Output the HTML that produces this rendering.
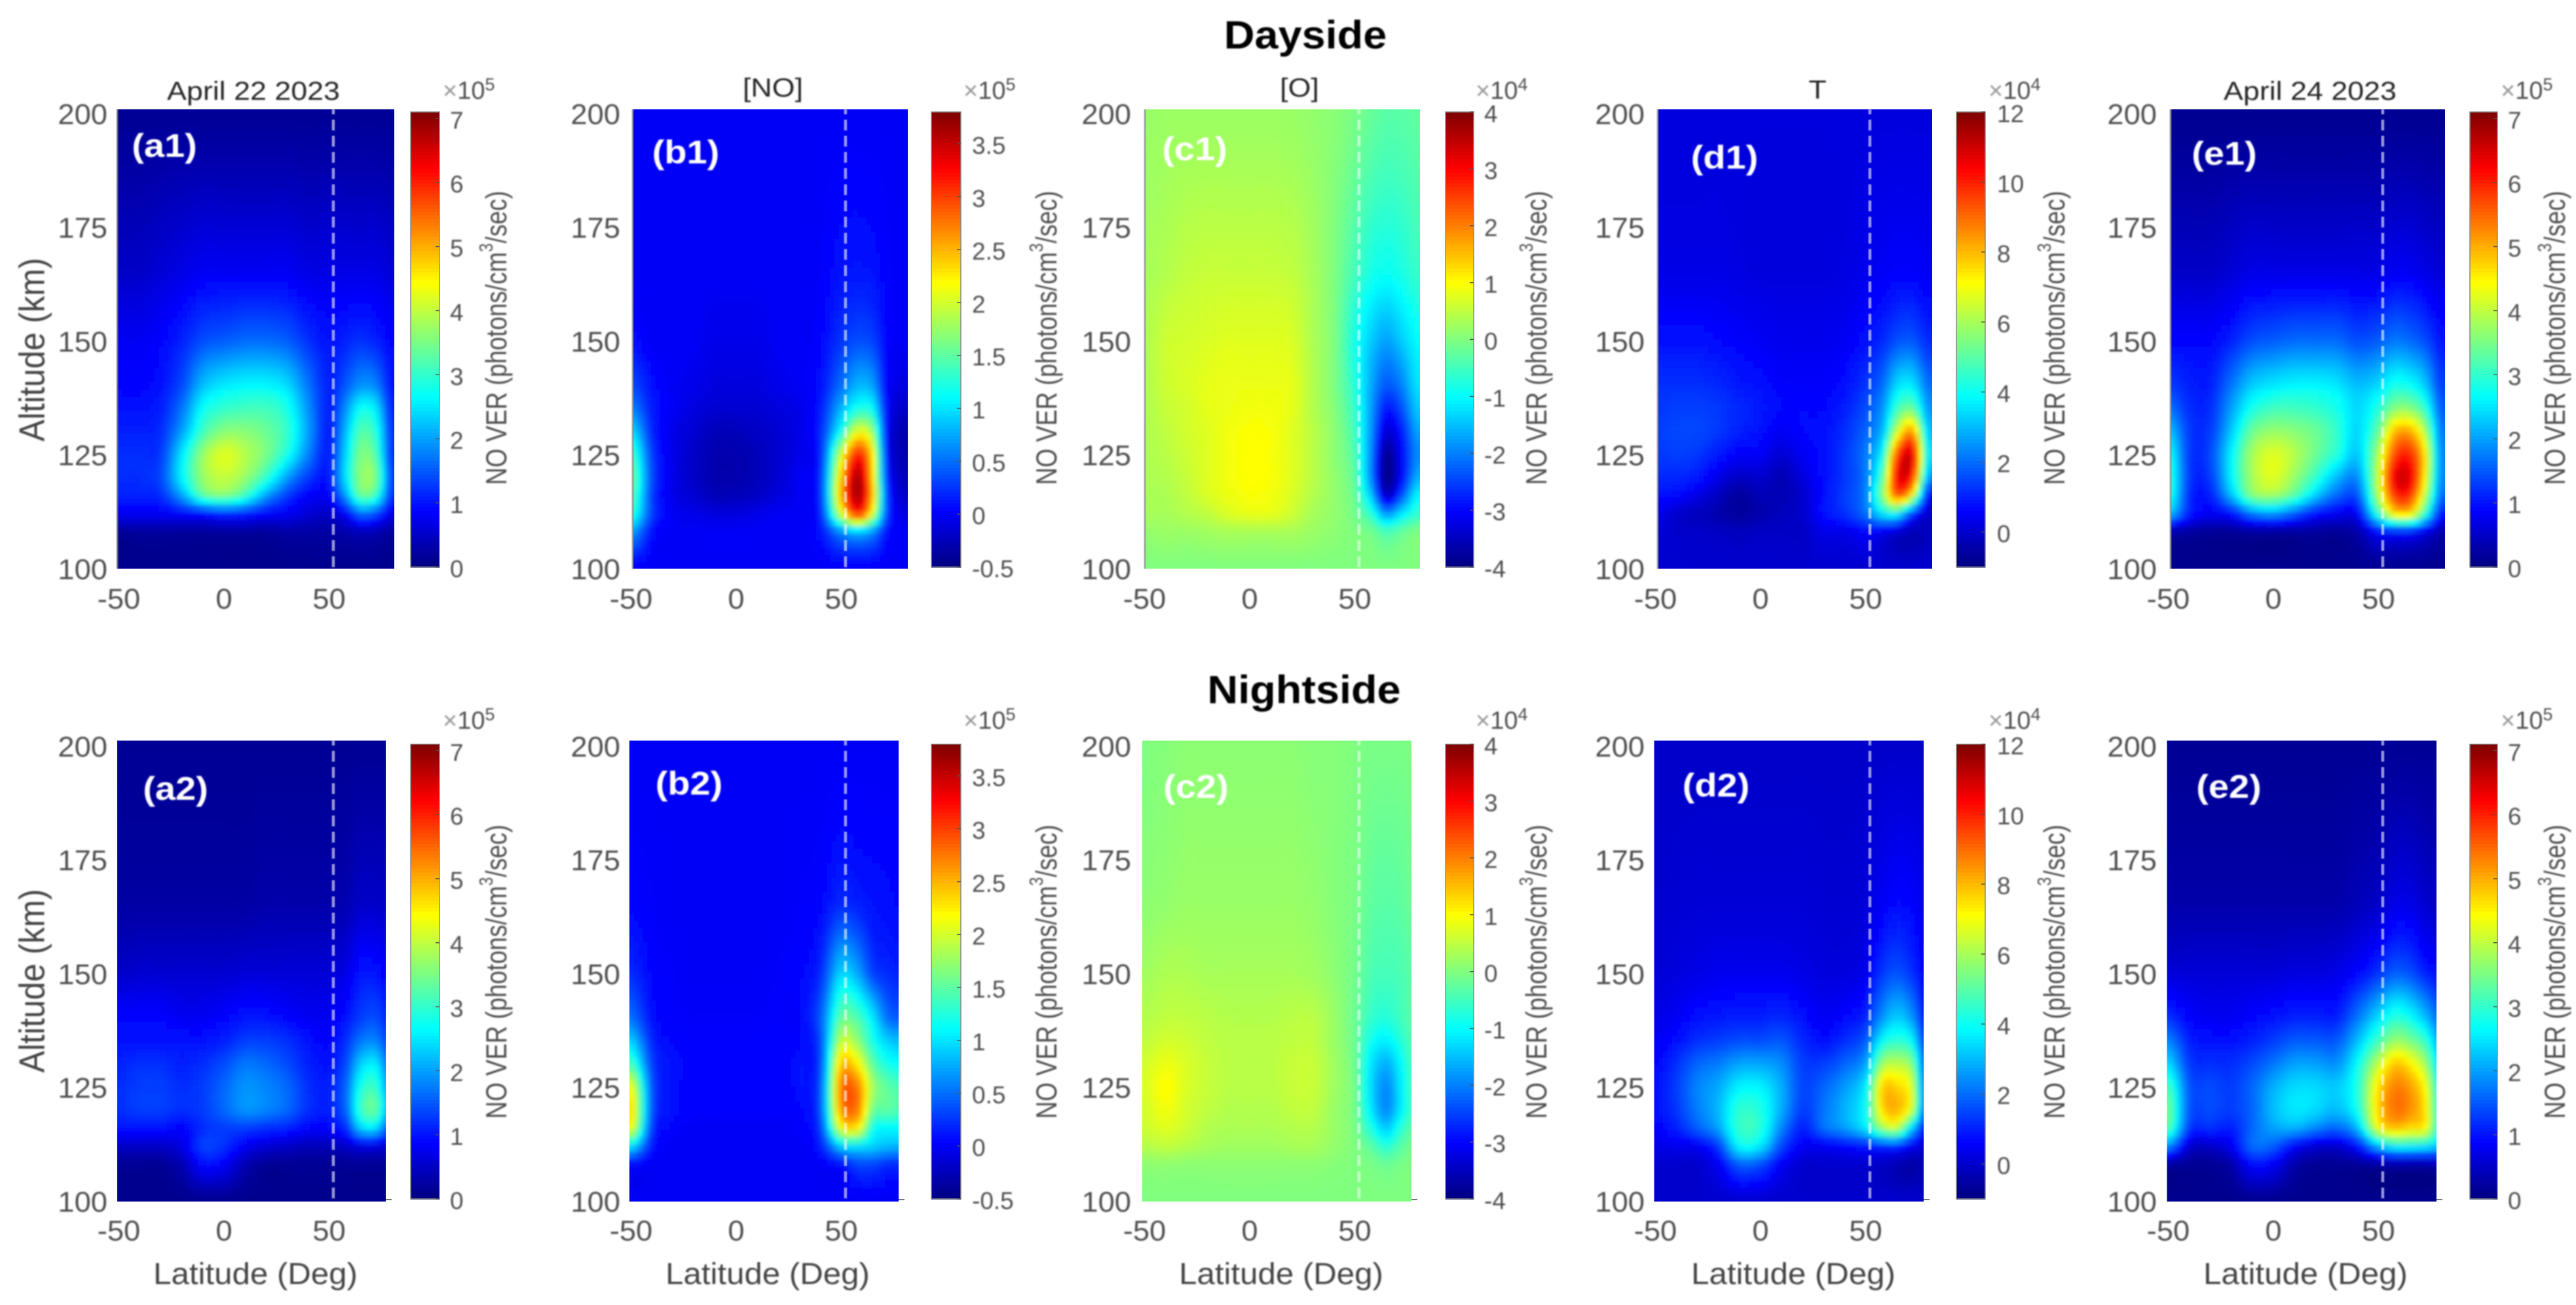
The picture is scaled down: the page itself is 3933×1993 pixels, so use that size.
<!DOCTYPE html>
<html lang="en">
<head>
<meta charset="utf-8">
<title>NO VER Dayside and Nightside</title>
<style>
html,body{margin:0;padding:0;background:#fff;}
svg{display:block;font-family:"Liberation Sans",sans-serif;}
.tick{font-size:44px;fill:#505050;}
.cb{font-size:37px;fill:#505050;}
.col{font-size:40px;fill:#262626;}
.xl{font-size:46px;fill:#444;}
.yl{font-size:50px;fill:#444;}
.cl{font-size:37px;fill:#505050;}
.head{font-size:60px;font-weight:bold;fill:#000;}
.pl{font-size:50px;font-weight:bold;fill:#fff;}
.ex{font-size:38px;fill:#505050;}
.mid{text-anchor:middle;dominant-baseline:central;}
</style>
</head>
<body>
<svg id="figure" xmlns="http://www.w3.org/2000/svg" width="3933" height="1993" viewBox="0 0 3933 1993">
<defs>
<filter id="soft" x="-5%" y="-5%" width="110%" height="110%"><feGaussianBlur stdDeviation="3.4"/></filter>
<filter id="dashBlur" filterUnits="userSpaceOnUse" x="0" y="0" width="3933" height="1993"><feGaussianBlur stdDeviation="0.9"/></filter>
<filter id="textBlur" filterUnits="userSpaceOnUse" x="0" y="0" width="3933" height="1993"><feGaussianBlur stdDeviation="1.1"/></filter>
</defs>
<rect width="3933" height="1993" fill="#fff"/>
<g id="plots"></g>
<g id="labels" filter="url(#textBlur)">
<text class="head mid" transform="translate(1993,54) scale(1.08,1)">Dayside</text>
<text class="head mid" transform="translate(1991,1054) scale(1.08,1)">Nightside</text>

<text class="col mid" transform="translate(387,139) scale(1.12,1)">April 22 2023</text>
<text class="col mid" transform="translate(1180,134) scale(1.12,1)">[NO]</text>
<text class="col mid" transform="translate(1984,134) scale(1.12,1)">[O]</text>
<text class="col mid" transform="translate(2775,137) scale(1.12,1)">T</text>
<text class="col mid" transform="translate(3527,139) scale(1.12,1)">April 24 2023</text>

<text class="pl mid" transform="translate(251,223) scale(1.12,1)">(a1)</text>
<text class="pl mid" transform="translate(1047,233) scale(1.12,1)">(b1)</text>
<text class="pl mid" transform="translate(1824,228) scale(1.12,1)">(c1)</text>
<text class="pl mid" transform="translate(2633,241) scale(1.12,1)">(d1)</text>
<text class="pl mid" transform="translate(3396,235) scale(1.12,1)">(e1)</text>
<text class="pl mid" transform="translate(268,1205) scale(1.12,1)">(a2)</text>
<text class="pl mid" transform="translate(1052,1197) scale(1.12,1)">(b2)</text>
<text class="pl mid" transform="translate(1826,1202) scale(1.12,1)">(c2)</text>
<text class="pl mid" transform="translate(2620,1200) scale(1.12,1)">(d2)</text>
<text class="pl mid" transform="translate(3403,1202) scale(1.12,1)">(e2)</text>

<text class="xl mid" transform="translate(390,1946) scale(1.07,1)">Latitude (Deg)</text>
<text class="xl mid" transform="translate(1172,1946) scale(1.07,1)">Latitude (Deg)</text>
<text class="xl mid" transform="translate(1956,1946) scale(1.07,1)">Latitude (Deg)</text>
<text class="xl mid" transform="translate(2738,1946) scale(1.07,1)">Latitude (Deg)</text>
<text class="xl mid" transform="translate(3520,1946) scale(1.07,1)">Latitude (Deg)</text>

<text class="yl mid" transform="translate(49,534) rotate(-90) scale(1,1.1)">Altitude (km)</text>
<text class="yl mid" transform="translate(49,1498) rotate(-90) scale(1,1.1)">Altitude (km)</text>

<text class="cl mid" transform="translate(758,516) rotate(-90) scale(1,1.2)">NO VER (photons/cm<tspan font-size="24" dy="-13">3</tspan><tspan dy="13">/sec)</tspan></text>
<text class="cl mid" transform="translate(1598,516) rotate(-90) scale(1,1.2)">NO VER (photons/cm<tspan font-size="24" dy="-13">3</tspan><tspan dy="13">/sec)</tspan></text>
<text class="cl mid" transform="translate(2346,516) rotate(-90) scale(1,1.2)">NO VER (photons/cm<tspan font-size="24" dy="-13">3</tspan><tspan dy="13">/sec)</tspan></text>
<text class="cl mid" transform="translate(3137,516) rotate(-90) scale(1,1.2)">NO VER (photons/cm<tspan font-size="24" dy="-13">3</tspan><tspan dy="13">/sec)</tspan></text>
<text class="cl mid" transform="translate(3901,516) rotate(-90) scale(1,1.2)">NO VER (photons/cm<tspan font-size="24" dy="-13">3</tspan><tspan dy="13">/sec)</tspan></text>
<text class="cl mid" transform="translate(758,1484) rotate(-90) scale(1,1.2)">NO VER (photons/cm<tspan font-size="24" dy="-13">3</tspan><tspan dy="13">/sec)</tspan></text>
<text class="cl mid" transform="translate(1598,1484) rotate(-90) scale(1,1.2)">NO VER (photons/cm<tspan font-size="24" dy="-13">3</tspan><tspan dy="13">/sec)</tspan></text>
<text class="cl mid" transform="translate(2346,1484) rotate(-90) scale(1,1.2)">NO VER (photons/cm<tspan font-size="24" dy="-13">3</tspan><tspan dy="13">/sec)</tspan></text>
<text class="cl mid" transform="translate(3137,1484) rotate(-90) scale(1,1.2)">NO VER (photons/cm<tspan font-size="24" dy="-13">3</tspan><tspan dy="13">/sec)</tspan></text>
<text class="cl mid" transform="translate(3901,1484) rotate(-90) scale(1,1.2)">NO VER (photons/cm<tspan font-size="24" dy="-13">3</tspan><tspan dy="13">/sec)</tspan></text>

<text class="ex" x="676" y="151"><tspan fill="#999">×</tspan>10<tspan font-size="27" dy="-13">5</tspan></text>
<text class="ex" x="1471" y="151"><tspan fill="#999">×</tspan>10<tspan font-size="27" dy="-13">5</tspan></text>
<text class="ex" x="2253" y="151"><tspan fill="#999">×</tspan>10<tspan font-size="27" dy="-13">4</tspan></text>
<text class="ex" x="3036" y="151"><tspan fill="#999">×</tspan>10<tspan font-size="27" dy="-13">4</tspan></text>
<text class="ex" x="3818" y="151"><tspan fill="#999">×</tspan>10<tspan font-size="27" dy="-13">5</tspan></text>
<text class="ex" x="676" y="1113"><tspan fill="#999">×</tspan>10<tspan font-size="27" dy="-13">5</tspan></text>
<text class="ex" x="1471" y="1113"><tspan fill="#999">×</tspan>10<tspan font-size="27" dy="-13">5</tspan></text>
<text class="ex" x="2253" y="1113"><tspan fill="#999">×</tspan>10<tspan font-size="27" dy="-13">4</tspan></text>
<text class="ex" x="3036" y="1113"><tspan fill="#999">×</tspan>10<tspan font-size="27" dy="-13">4</tspan></text>
<text class="ex" x="3818" y="1113"><tspan fill="#999">×</tspan>10<tspan font-size="27" dy="-13">5</tspan></text>
</g>
</svg>
<script>
// Grid axes of the data tables
const latitudes = [-50,-40,-30,-20,-10,0,10,20,30,40,50,58,65,72,80];
const altitudes = [100,108,112,116,120,125,130,135,140,150,165,200];
const latTicks = [-50,0,50];
const altTicks = [200,175,150,125,100];
const terminatorLat = 52;

// Colour-scale ranges and tick labels
const rangeA = [0,7.1];
const rangeB = [-0.5,3.8];
const rangeC = [-4,4];
const rangeD = [-1,12];
const rangeE = [0,7.1];
const ticksA = [0,1,2,3,4,5,6,7];
const ticksB = [-0.5,0,0.5,1,1.5,2,2.5,3,3.5];
const ticksC = [-4,-3,-2,-1,0,1,2,3,4];
const ticksD = [0,2,4,6,8,10,12];
const ticksE = [0,1,2,3,4,5,6,7];

// Values: one row per altitude (100 km first), one column per latitude
const valuesA1 = [
[.1,.1,.1,.1,.1,.1,.1,.1,.1,.1,.1,.1,.1,.1,.1],
[.15,.2,.2,.2,.2,.2,.2,.2,.25,.25,.25,.3,.4,.35,.2],
[.8,.8,.8,.9,1,1.2,1.1,.9,.8,.6,.5,.9,1.6,1.4,.7],
[1.1,1.1,1.2,2,3.2,3.5,3,2,1.3,.9,.9,2,3.3,3,1.2],
[1.2,1.2,1.4,2.6,3.7,4,3.7,3,2,1.3,1.1,2.5,3.6,3.5,1.3],
[1.2,1.2,1.3,2.5,3.7,4.2,3.9,3.5,2.8,1.8,1.1,2.4,3.5,3.2,1.2],
[1.1,1.1,1.2,2,3.1,3.6,3.6,3.4,3,2,1.1,2.2,3.2,2.9,1.2],
[1,1,1.1,1.7,2.7,3,3.1,3.1,2.8,1.9,1.1,1.9,2.7,2.5,1.1],
[.9,.9,1,1.4,2.2,2.5,2.6,2.6,2.4,1.7,1.1,1.5,1.9,1.8,1],
[.8,.8,.9,1.1,1.4,1.5,1.6,1.6,1.5,1.2,1,1.1,1.2,1.1,.9],
[.5,.5,.6,.7,.8,.8,.8,.8,.8,.7,.7,.7,.7,.7,.6],
[.15,.15,.15,.15,.15,.15,.15,.15,.15,.15,.15,.15,.15,.15,.15]];
const valuesB1 = [
[0,0,0,0,0,0,0,0,0,0,0,0,0,0,0],
[.7,.1,0,0,0,0,0,0,0,.1,.6,.8,.6,.1,0],
[1.3,.3,0,-.05,-.1,-.1,-.05,0,0,.2,2,3,2,.3,-.1],
[1.5,.3,-.05,-.15,-.25,-.25,-.2,-.1,0,.25,2.5,3.6,2.4,.3,-.2],
[1.6,.35,-.05,-.2,-.3,-.3,-.25,-.15,0,.25,2.4,3.6,2.3,.2,-.25],
[1.4,.3,-.05,-.2,-.3,-.3,-.25,-.15,-.05,.2,2,3.1,2.2,.1,-.3],
[1,.2,-.05,-.15,-.25,-.25,-.2,-.15,-.05,.2,1.2,2.1,1.7,.05,-.3],
[.6,.15,0,-.1,-.15,-.15,-.15,-.1,-.05,.15,.8,1.2,1.1,.05,-.2],
[.35,.1,0,-.05,-.1,-.1,-.1,-.05,0,.1,.5,.8,.7,.05,-.1],
[.1,0,0,0,-.05,-.05,-.05,0,0,.05,.25,.35,.3,.05,0],
[0,0,0,0,0,0,0,0,0,.02,.1,.12,.1,.03,0],
[0,0,0,0,0,0,0,0,0,0,0,0,0,0,0]];
const valuesC1 = [
[0,0,0,0,0,0,0,0,0,0,0,0,0,0,0],
[.15,.2,.2,.25,.3,.3,.3,.3,.2,.1,0,-.1,-.4,-.2,0],
[.3,.3,.4,.5,.7,.8,.8,.6,.3,.15,-.1,-.7,-1.8,-1.2,-.6],
[.3,.35,.5,.7,.85,.95,.9,.7,.4,.15,-.2,-1.5,-3.4,-2.4,-1],
[.35,.4,.55,.75,.9,1,.95,.75,.45,.15,-.3,-2,-3.9,-3,-1.6],
[.35,.45,.6,.75,.9,1,.95,.75,.45,.1,-.4,-2,-3.8,-3,-1.9],
[.35,.5,.65,.75,.9,.98,.95,.75,.45,.1,-.5,-1.9,-3.3,-2.8,-1.7],
[.35,.55,.65,.8,.85,.9,.9,.8,.4,.05,-.6,-1.8,-2.8,-2.4,-1.4],
[.35,.6,.7,.8,.85,.85,.85,.8,.4,0,-.7,-1.7,-2.3,-2,-1.2],
[.35,.6,.65,.7,.75,.75,.75,.7,.35,0,-.8,-1.4,-1.7,-1.4,-1],
[.3,.4,.5,.55,.55,.55,.55,.5,.3,0,-.45,-.8,-.9,-.8,-.55],
[.18,.22,.22,.22,.22,.22,.22,.2,.15,.08,-.05,-.2,-.3,-.3,-.25]];
const valuesD1 = [
[0,0,0,0,0,0,0,0,0,0,0,0,0,0,0],
[.1,0,-.05,-.1,-.2,-.1,-.1,-.1,.3,.3,.6,.4,0,-.3,-.2],
[.4,0,-.2,-.4,-.6,-.4,-.2,0,.8,1.2,2,3.5,3.8,1.5,-.1],
[.8,.7,.3,-.2,-.6,-.3,-.3,0,.8,1.4,2.3,5.5,9,7,.7],
[1.1,1.1,.9,.3,-.1,0,-.3,.2,.8,1.3,2.2,5,10.3,9.8,2.5],
[1.3,1.4,1.3,.9,.6,.5,.1,.5,.8,1.3,2.2,4,9.3,10.6,3.5],
[1.4,1.5,1.5,1.3,1,.8,.5,.7,.8,1.2,1.9,3,6.5,8.3,3],
[1.3,1.4,1.4,1.3,1.1,.9,.7,.7,.7,1,1.6,2.5,4.6,5.2,2.5],
[1.2,1.2,1.2,1.1,.9,.8,.6,.6,.6,.8,1.3,2,3.4,3.6,2],
[.8,.8,.8,.7,.6,.5,.4,.4,.4,.5,.8,1.1,1.6,1.7,1.1],
[.3,.3,.3,.3,.25,.2,.2,.2,.2,.25,.4,.5,.6,.6,.5],
[.2,.2,.2,.2,.2,.2,.2,.2,.2,.2,.2,.2,.2,.2,.2]];
const valuesE1 = [
[.1,.1,.1,.1,.1,.1,.1,.1,.1,.1,.1,.1,.1,.1,.1],
[.3,.2,.15,.15,.2,.2,.2,.2,.15,.3,.9,1,1,.7,.3],
[2.2,1.1,.8,1,1.7,1.9,1.5,1,.8,.9,3,4.5,4.5,3,1],
[2.9,1.2,1.1,2.2,3.5,3.7,3.2,2.3,1.6,1.5,3.9,5.8,5.8,4,1.6],
[3,1.3,1.3,2.6,3.8,4.2,3.7,3,2.2,1.9,4.1,6.3,6.3,4.5,1.8],
[2.8,1.3,1.4,2.6,3.8,4.2,3.9,3.4,2.9,2.3,3.9,5.7,5.9,4.6,1.8],
[2.3,1.3,1.3,2.3,3.4,3.7,3.6,3.4,3,2.4,3.4,4.9,5,3.9,1.7],
[1.7,1.2,1.2,2,2.8,3.1,3.1,3,2.8,2.4,2.9,3.6,3.6,3,1.5],
[1.3,1.1,1.1,1.7,2.3,2.5,2.6,2.6,2.5,2.2,2.4,2.8,2.7,2.3,1.3],
[.9,.9,.9,1.1,1.4,1.5,1.6,1.6,1.6,1.4,1.5,1.7,1.6,1.4,1],
[.5,.5,.5,.6,.7,.7,.7,.7,.7,.7,.7,.8,.8,.7,.6],
[.12,.12,.12,.12,.12,.12,.12,.12,.12,.12,.12,.12,.12,.12,.12]];
const valuesA2 = [
[.1,.1,.1,.1,.1,.1,.1,.1,.1,.1,.1,.1,.1,.1,.1],
[.15,.15,.15,.35,.9,.8,.35,.15,.15,.15,.15,.15,.15,.15,.15],
[.5,.5,.5,.7,1.3,1.2,.8,.6,.5,.4,.4,.5,.7,.7,.5],
[1,1,1,.9,1.2,1.3,1.3,1.2,1.1,.9,.9,1.2,2.3,2.4,1.2],
[1.2,1.3,1.3,1.2,1.3,1.6,1.9,1.8,1.6,1.2,1.1,1.6,3,3.3,1.7],
[1.2,1.3,1.3,1.2,1.3,1.6,1.9,1.8,1.6,1.2,1.1,1.6,2.8,3,1.6],
[1.1,1.2,1.2,1.1,1.2,1.4,1.7,1.6,1.4,1.1,1,1.4,2.3,2.5,1.4],
[1,1,1,1,1,1.1,1.3,1.3,1.2,1,.9,1.2,1.7,1.8,1.2],
[.9,.9,.9,.8,.8,.9,1,1,.9,.8,.8,1,1.3,1.4,1],
[.5,.55,.55,.55,.55,.55,.6,.6,.6,.6,.6,.7,1,1,.8],
[.25,.25,.25,.25,.25,.25,.25,.3,.3,.3,.3,.35,.5,.5,.45],
[.15,.15,.15,.15,.15,.15,.15,.15,.15,.15,.15,.15,.15,.15,.15]];
const valuesB2 = [
[0,0,0,0,0,0,0,0,0,0,0,0,0,0,0],
[.05,0,0,0,0,0,0,0,0,0,.1,.3,.3,.2,.2],
[1,.15,0,0,0,0,0,0,0,.15,.9,1,.9,.8,.8],
[2.1,.3,.05,0,0,0,0,0,.05,.3,2.1,2.2,1.2,1.1,1.1],
[2.3,.4,.1,.05,.05,.05,.05,.05,.05,.4,2.6,2.7,1.6,1.5,1.4],
[2.1,.4,.1,.05,.05,.05,.05,.05,.1,.4,2.7,2.7,1.8,1.5,1.4],
[1.4,.3,.1,.05,.05,.05,.05,.05,.1,.35,2.4,2.2,1.5,1.2,1.1],
[.9,.2,.05,.03,.03,.03,.03,.05,.05,.35,1.9,1.7,1.2,.9,.8],
[.5,.1,.03,.02,.02,.02,.02,.03,.05,.4,1.5,1.4,1,.5,.4],
[.2,.05,.02,0,0,0,0,.02,.05,.2,.9,.7,.3,.2,.15],
[.05,.02,0,0,0,0,0,0,.02,.05,.2,.15,.1,.08,.05],
[0,0,0,0,0,0,0,0,0,0,0,0,0,0,0]];
const valuesC2 = [
[0,0,0,0,0,0,0,0,0,0,0,0,0,0,0],
[.1,.12,.1,.1,.1,.1,.1,.1,.1,.05,0,-.05,-.15,-.05,0],
[.4,.5,.4,.3,.25,.25,.25,.3,.3,.15,0,-.3,-.7,-.3,0],
[.6,.75,.6,.4,.35,.35,.35,.4,.4,.2,-.05,-.8,-1.4,-.7,-.1],
[.65,.9,.65,.5,.4,.4,.4,.5,.5,.2,-.1,-1.2,-1.9,-1.1,-.2],
[.7,1,.7,.55,.45,.45,.45,.55,.55,.25,-.1,-1.3,-1.9,-1.1,-.2],
[.65,.85,.7,.55,.45,.45,.45,.55,.55,.25,-.15,-1.2,-1.6,-1,-.2],
[.5,.65,.6,.5,.45,.45,.45,.5,.5,.2,-.15,-.9,-1.1,-.7,-.2],
[.4,.5,.5,.45,.4,.4,.4,.45,.45,.2,-.15,-.6,-.7,-.5,-.2],
[.25,.35,.35,.3,.3,.3,.3,.3,.25,.1,-.1,-.4,-.45,-.4,-.2],
[.1,.15,.2,.2,.2,.2,.2,.2,.15,.05,-.05,-.25,-.3,-.25,-.1],
[0,.05,.1,.1,.1,.1,.1,.1,.05,.05,0,-.05,-.05,-.05,0]];
const valuesD2 = [
[0,0,0,0,0,0,0,0,0,0,0,0,0,0,0],
[0,0,0,.5,1.7,1.5,.5,0,0,0,0,-.1,-.3,-.5,-.2],
[.3,.4,.5,1.4,3.8,3.5,1.5,.5,.5,.7,.9,1.2,1.2,.5,0],
[.6,1,1.8,2.7,4.5,4.3,2.3,1,2,2.6,3.6,5.8,6.2,3.3,.3],
[.8,1.3,2.2,3,4.4,4.2,2.8,1.4,2.1,2.9,4,7.5,8,6.4,.7],
[.8,1.4,2.3,2.8,3.7,3.7,2.8,1.5,1.9,2.6,3.7,7.6,7.6,6.5,.8],
[.7,1.2,1.9,2.2,2.7,2.7,2.4,1.4,1.4,1.9,2.7,5.8,6.2,5.4,.7],
[.5,.8,1.2,1.4,1.6,1.6,1.7,1.1,.8,1.2,1.8,3.9,4.4,3.8,.6],
[.3,.5,.8,.9,1,1,1.1,.8,.5,.7,1.1,2.5,3.2,2.5,.5],
[.1,.2,.3,.4,.4,.4,.4,.3,.2,.2,.4,1.3,1.6,1.2,.4],
[0,.05,.1,.1,.1,.1,.1,.1,.05,.05,.15,.5,.7,.6,.3],
[-.05,-.05,-.05,-.05,-.05,-.05,-.05,-.05,-.05,-.05,-.05,-.05,-.05,-.05,-.05]];
const valuesE2 = [
[.1,.1,.1,.1,.1,.1,.1,.1,.1,.1,.1,.1,.1,.1,.1],
[.2,.15,.15,.3,.9,.8,.3,.15,.15,.15,.2,.25,.25,.25,.25],
[1.8,.6,.5,.8,1.6,1.5,.9,.6,.55,1,2.1,2.6,2.6,2.5,2.2],
[3.2,1.3,1.2,1.1,1.6,2,2.1,1.8,1.6,2.2,4.3,4.8,4.6,4.4,2.6],
[3.4,1.5,1.4,1.3,1.6,2.2,2.5,2.4,2.2,2.8,4.7,5.4,5.2,4.6,2.6],
[3.1,1.5,1.4,1.3,1.6,2.1,2.4,2.4,2.3,2.9,4.6,5.3,5.1,4.4,2.5],
[2.4,1.3,1.2,1.2,1.4,1.7,2,2,1.9,2.7,4,4.8,4.5,3.8,2.2],
[1.8,1.1,1,1,1.1,1.3,1.5,1.5,1.5,2.2,3.1,3.7,3.5,3,1.9],
[1.2,.9,.8,.8,.9,1,1.1,1.1,1.1,1.7,2.4,2.9,2.7,2.2,1.5],
[.6,.6,.6,.6,.6,.6,.65,.65,.7,.9,1.2,1.5,1.4,1.1,.9],
[.3,.3,.3,.3,.3,.3,.3,.3,.3,.4,.5,.7,.7,.55,.45],
[.15,.15,.15,.15,.15,.15,.15,.15,.15,.15,.15,.15,.15,.15,.15]];

// Layout (pixels) — separate from the data
const rowLayout = [
  {top:167,bottom:868.6,cbTop:171,cbBottom:866,xLabelY:915,yLabelTop:175,yLabelBottom:870,axisLine:true},
  {top:1131,bottom:1835,cbTop:1136.5,cbBottom:1831,xLabelY:1880,yLabelTop:1141,yLabelBottom:1836,axisLine:false}
];
const panels = [
 {row:0,left:179,right:602,zero:342,cbL:627,cbR:671,tickR:164,cbLabel:687,grid:valuesA1,range:rangeA,cbTicks:ticksA},
 {row:0,left:966,right:1386,zero:1124,cbL:1422,cbR:1467,tickR:947,cbLabel:1484,grid:valuesB1,range:rangeB,cbTicks:ticksB},
 {row:0,left:1748,right:2168,zero:1908,cbL:2207,cbR:2250,tickR:1727,cbLabel:2266,grid:valuesC1,range:rangeC,cbTicks:ticksC},
 {row:0,left:2531,right:2950,zero:2688,cbL:2987,cbR:3031,tickR:2511,cbLabel:3049,grid:valuesD1,range:rangeD,cbTicks:ticksD},
 {row:0,left:3314,right:3733,zero:3471,cbL:3771,cbR:3813,tickR:3293,cbLabel:3829,grid:valuesE1,range:rangeE,cbTicks:ticksE},
 {row:1,left:179,right:589,zero:342,cbL:627,cbR:671,tickR:164,cbLabel:687,grid:valuesA2,range:rangeA,cbTicks:ticksA},
 {row:1,left:961,right:1372,zero:1124,cbL:1422,cbR:1467,tickR:947,cbLabel:1484,grid:valuesB2,range:rangeB,cbTicks:ticksB},
 {row:1,left:1744,right:2155,zero:1908,cbL:2207,cbR:2250,tickR:1727,cbLabel:2266,grid:valuesC2,range:rangeC,cbTicks:ticksC},
 {row:1,left:2525.5,right:2937,zero:2688,cbL:2987,cbR:3031,tickR:2511,cbLabel:3049,grid:valuesD2,range:rangeD,cbTicks:ticksD},
 {row:1,left:3308.5,right:3720,zero:3471,cbL:3771,cbR:3813,tickR:3293,cbLabel:3829,grid:valuesE2,range:rangeE,cbTicks:ticksE}
];

const NS = 'http://www.w3.org/2000/svg';
const PX_PER_DEG = 3.21;
const CELLS_X = 60;
const CELLS_Y = 64;
const CB_LEVELS = 128;
const plotsLayer = document.getElementById('plots');
const labelsLayer = document.getElementById('labels');
const defsEl = document.querySelector('defs');

function clamp01(v){ return v < 0 ? 0 : (v > 1 ? 1 : v); }
function jet(t){
  const r = clamp01(1.5 - Math.abs(4*t - 3));
  const g = clamp01(1.5 - Math.abs(4*t - 2));
  const b = clamp01(1.5 - Math.abs(4*t - 1));
  return 'rgb(' + Math.round(r*255) + ',' + Math.round(g*255) + ',' + Math.round(b*255) + ')';
}
function axisIndex(nodes, v){
  if (v <= nodes[0]) return 0;
  const last = nodes.length - 1;
  if (v >= nodes[last]) return last;
  let i = 0;
  while (v > nodes[i+1]) i++;
  return i + (v - nodes[i]) / (nodes[i+1] - nodes[i]);
}
function catmull(p0, p1, p2, p3, f){
  return p1 + 0.5*f*(p2 - p0 + f*(2*p0 - 5*p1 + 4*p2 - p3 + f*(3*(p1 - p2) + p3 - p0)));
}
function sampleGrid(grid, lat, alt){
  const fx = axisIndex(latitudes, lat);
  const fy = axisIndex(altitudes, alt);
  const ix = Math.min(Math.floor(fx), latitudes.length - 2);
  const iy = Math.min(Math.floor(fy), altitudes.length - 2);
  const tx = fx - ix;
  const ty = fy - iy;
  const rowVal = [];
  for (let j = -1; j <= 2; j++) {
    const row = grid[Math.max(0, Math.min(altitudes.length - 1, iy + j))];
    const a = row[Math.max(0, ix - 1)];
    const b = row[ix];
    const c = row[ix + 1];
    const d = row[Math.min(latitudes.length - 1, ix + 2)];
    rowVal.push(catmull(a, b, c, d, tx));
  }
  return catmull(rowVal[0], rowVal[1], rowVal[2], rowVal[3], ty);
}
function makeText(cls, x, y, sx, str){
  const t = document.createElementNS(NS, 'text');
  t.setAttribute('class', cls);
  t.setAttribute('transform', 'translate(' + x + ',' + y + ') scale(' + sx + ',1)');
  t.textContent = str;
  return t;
}

panels.forEach(function(p, idx){
  const L = rowLayout[p.row];
  const xScale = function(lat){ return p.zero + lat*PX_PER_DEG; };
  const yScale = function(alt){ return L.top + (200 - alt)/100*(L.bottom - L.top); };
  const cbScale = function(v){ return L.cbBottom - (v - p.range[0])/(p.range[1] - p.range[0])*(L.cbBottom - L.cbTop); };
  const valueToT = function(v){ return (v - p.range[0])/(p.range[1] - p.range[0]); };
  const latMin = (p.left - p.zero)/PX_PER_DEG;
  const latMax = (p.right - p.zero)/PX_PER_DEG;

  const panel = document.createElementNS(NS, 'g');
  
  

  const clip = document.createElementNS(NS, 'clipPath');
  clip.setAttribute('id', 'clip' + idx);
  const clipRect = document.createElementNS(NS, 'rect');
  clipRect.setAttribute('x', p.left);
  clipRect.setAttribute('y', L.top);
  clipRect.setAttribute('width', p.right - p.left);
  clipRect.setAttribute('height', L.bottom - L.top);
  clip.appendChild(clipRect);
  defsEl.appendChild(clip);

  const clipGroup = document.createElementNS(NS, 'g');
  clipGroup.setAttribute('clip-path', 'url(#clip' + idx + ')');
  
  
  const cellsGroup = document.createElementNS(NS, 'g');
  cellsGroup.setAttribute('filter', 'url(#soft)');
  cellsGroup.setAttribute('shape-rendering', 'crispEdges');
  
  

  const dLat = (latMax - latMin)/CELLS_X;
  const dAlt = 100/CELLS_Y;
  for (let j = -3; j < CELLS_Y + 3; j++) {
    const alt = 100 + j*dAlt;
    for (let i = -3; i < CELLS_X + 3; i++) {
      const lat = latMin + i*dLat;
      const v = sampleGrid(p.grid, lat + dLat/2, alt + dAlt/2);
      const cell = document.createElementNS(NS, 'rect');
      
      
      cell.setAttribute('x', xScale(lat).toFixed(1));
      cell.setAttribute('y', yScale(alt + dAlt).toFixed(1));
      cell.setAttribute('width', (dLat*PX_PER_DEG + 0.7).toFixed(1));
      cell.setAttribute('height', (yScale(alt) - yScale(alt + dAlt) + 0.7).toFixed(1));
      cell.setAttribute('fill', jet(valueToT(v)));
      cellsGroup.appendChild(cell);
    }
  }
  clipGroup.appendChild(cellsGroup);
  panel.appendChild(clipGroup);

  const dash = document.createElementNS(NS, 'line');
  
  
  dash.setAttribute('x1', xScale(terminatorLat));
  dash.setAttribute('x2', xScale(terminatorLat));
  dash.setAttribute('y1', L.top);
  dash.setAttribute('y2', L.bottom);
  dash.setAttribute('stroke', '#fff');
  dash.setAttribute('stroke-opacity', '0.58');
  dash.setAttribute('stroke-width', '4.5');
  dash.setAttribute('stroke-dasharray', '16.5 8.2');
  dash.setAttribute('stroke-dashoffset', '9');
  dash.setAttribute('filter', 'url(#dashBlur)');
  panel.appendChild(dash);

  if (L.axisLine) {
    const axisLine = document.createElementNS(NS, 'line');
    
    
    axisLine.setAttribute('x1', p.left);
    axisLine.setAttribute('x2', p.left);
    axisLine.setAttribute('y1', L.top);
    axisLine.setAttribute('y2', L.bottom);
    axisLine.setAttribute('stroke', '#888');
    axisLine.setAttribute('stroke-width', '3');
    axisLine.setAttribute('stroke-opacity', '0.7');
    panel.appendChild(axisLine);
  } else {
    const stray = document.createElementNS(NS, 'line');
    
    
    stray.setAttribute('x1', p.right);
    stray.setAttribute('x2', p.right + 9);
    stray.setAttribute('y1', L.bottom - 3);
    stray.setAttribute('y2', L.bottom - 3);
    stray.setAttribute('stroke', '#777');
    stray.setAttribute('stroke-width', '2');
    panel.appendChild(stray);
  }

  // Colour bar
  const cbGroup = document.createElementNS(NS, 'g');
  
  
  cbGroup.setAttribute('shape-rendering', 'crispEdges');
  for (let k = 0; k < CB_LEVELS; k++) {
    const v0 = p.range[0] + k/CB_LEVELS*(p.range[1] - p.range[0]);
    const v1 = p.range[0] + (k + 1)/CB_LEVELS*(p.range[1] - p.range[0]);
    const seg = document.createElementNS(NS, 'rect');
    
    
    seg.setAttribute('x', p.cbL);
    seg.setAttribute('y', cbScale(v1).toFixed(1));
    seg.setAttribute('width', p.cbR - p.cbL);
    seg.setAttribute('height', (cbScale(v0) - cbScale(v1) + 0.8).toFixed(1));
    seg.setAttribute('fill', jet((k + 0.5)/CB_LEVELS));
    cbGroup.appendChild(seg);
  }
  panel.appendChild(cbGroup);

  const cbFrame = document.createElementNS(NS, 'rect');
  
  
  cbFrame.setAttribute('x', p.cbL);
  cbFrame.setAttribute('y', L.cbTop);
  cbFrame.setAttribute('width', p.cbR - p.cbL);
  cbFrame.setAttribute('height', L.cbBottom - L.cbTop);
  cbFrame.setAttribute('fill', 'none');
  cbFrame.setAttribute('stroke', '#888');
  cbFrame.setAttribute('stroke-width', '1.5');
  panel.appendChild(cbFrame);

  p.cbTicks.forEach(function(v){
    const tk = document.createElementNS(NS, 'line');
    
    
    tk.setAttribute('x1', p.cbR - 6);
    tk.setAttribute('x2', p.cbR);
    tk.setAttribute('y1', cbScale(v));
    tk.setAttribute('y2', cbScale(v));
    tk.setAttribute('stroke', '#555');
    tk.setAttribute('stroke-width', '1.5');
    panel.appendChild(tk);
    const lab = makeText('cb', p.cbLabel, cbScale(v) + 3, 1, String(v));
    
    
    lab.setAttribute('dominant-baseline', 'central');
    labelsLayer.appendChild(lab);
  });

  plotsLayer.appendChild(panel);

  // Axis tick labels
  latTicks.forEach(function(v){
    const lab = makeText('tick mid', xScale(v), L.xLabelY, 1.03, String(v));
    
    
    labelsLayer.appendChild(lab);
  });
  altTicks.forEach(function(v){
    const ly = L.yLabelTop + (200 - v)/100*(L.yLabelBottom - L.yLabelTop);
    const lab = makeText('tick', p.tickR, ly, 1.03, String(v));
    
    
    lab.setAttribute('text-anchor', 'end');
    lab.setAttribute('dominant-baseline', 'central');
    labelsLayer.appendChild(lab);
  });
});
</script>
</body>
</html>
